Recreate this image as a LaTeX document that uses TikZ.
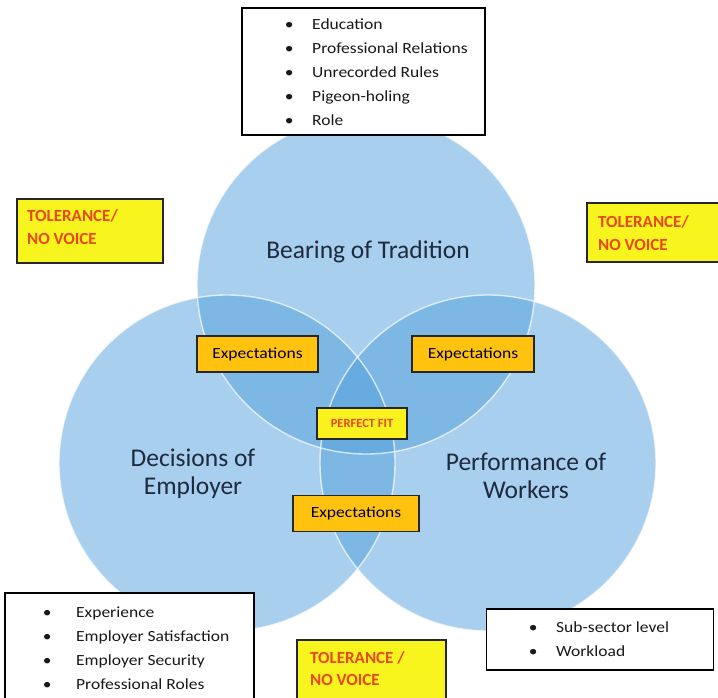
\documentclass[tikz,border=0pt]{standalone}
\usepackage{fontspec}
\setmainfont{Carlito}
\newfontfamily\listfont{Carlito}[FakeStretch=1.13]
\definecolor{ringblue}{RGB}{83,161,221}
\definecolor{voiceyellow}{RGB}{248,245,30}
\definecolor{voicered}{RGB}{232,72,28}
\definecolor{exporange}{RGB}{255,194,14}
\definecolor{labelnavy}{RGB}{30,42,62}
\definecolor{fityellow}{RGB}{250,242,30}
\newcommand\bulletitem[2]{\makebox[#1][l]{\makebox[0pt]{\textbullet}}#2}
\begin{document}
\begin{tikzpicture}[x=1pt,y=-1pt,
  ring/.style={fill=ringblue, fill opacity=0.5},
  rim/.style={draw=white, line width=1.4pt, draw opacity=0.7},
  listbox/.style={draw=black, line width=1.3pt, fill=white, inner sep=0pt},
  item/.style={anchor=base west, inner sep=0pt, text=black!90,
    font=\listfont\fontsize{15.5}{18}\selectfont},
  voicebox/.style={draw=black!85, line width=1.2pt, fill=voiceyellow, inner sep=0pt},
  voicetext/.style={anchor=base west, inner sep=0pt, text=voicered,
    font=\bfseries\fontsize{17}{20}\selectfont},
  expbox/.style={draw=black!85, line width=1.3pt, fill=exporange, inner sep=0pt,
    minimum height=36, text=black!80!blue!60!black,
    font=\listfont\fontsize{15.5}{18}\selectfont},
  fitbox/.style={draw=black!85, line width=1.2pt, fill=fityellow, inner sep=0pt,
    text=voicered, font=\bfseries\fontsize{12.5}{14}\selectfont},
  ringlabel/.style={align=center, text=labelnavy, inner sep=0pt,
    font=\fontsize{25.5}{27.5}\selectfont}
]
\useasboundingbox (0,0) rectangle (718,698);
\fill[white] (0,0) rectangle (718,698);

% the three overlapping circles
\coordinate (ctrad) at (366,285);
\coordinate (cemp) at (227,463);
\coordinate (cwork) at (488,463);
\fill[ring] (ctrad) circle[radius=169pt];
\fill[ring] (cemp) circle[radius=168pt];
\fill[ring] (cwork) circle[radius=168pt];
\draw[rim] (ctrad) circle[radius=169pt];
\draw[rim] (cemp) circle[radius=168pt];
\draw[rim] (cwork) circle[radius=168pt];

% circle titles
\node[ringlabel] (lbltrad) at (368,252) {Bearing of Tradition};
\node[ringlabel] (lblemp) at (193,474) {Decisions of\\Employer};
\node[ringlabel] (lblwork) at (526,476) {Performance of\\Workers};

% overlap tags
\node[expbox, minimum width=121] (expleft) at (257.5,354) {Expectations};
\node[expbox, minimum width=122] (expright) at (473,354) {Expectations};
\node[expbox, minimum width=126] (expbottom) at (356,513.5) {Expectations};
\node[fitbox, minimum width=90, minimum height=31] (fit) at (362,423.5) {PERFECT FIT};

% factor lists
\node[listbox, minimum width=243, minimum height=127] (tradbox) at (363.5,71.5) {};
\foreach \y/\t [count=\i] in {30/Education, 54/Professional Relations,
    78/Unrecorded Rules, 102/Pigeon-holing, 126/Role}
  \node[item] (trad\i) at (289,\y) {\bulletitem{23pt}{\t}};

\node[listbox, minimum width=249, minimum height=120] (empbox) at (129.5,653) {};
\foreach \y/\t [count=\i] in {617/Experience, 641/Employer Satisfaction,
    665/Employer Security, 689/Professional Roles}
  \node[item] (emp\i) at (47,\y) {\bulletitem{29pt}{\t}};

\node[listbox, minimum width=227, minimum height=61] (workbox) at (600,639.5) {};
\foreach \y/\t [count=\i] in {632/Sub-sector level, 656/Workload}
  \node[item] (work\i) at (533,\y) {\bulletitem{23pt}{\t}};

% tolerance / no voice boxes
\node[voicebox, minimum width=146, minimum height=64] (voiceleft) at (90,231) {};
\node[voicetext] (vl1) at (27,222) {TOLERANCE/};
\node[voicetext] (vl2) at (27,244) {NO VOICE};

\node[voicebox, minimum width=135, minimum height=59] (voiceright) at (654.5,232.5) {};
\node[voicetext] (vr1) at (598,227) {TOLERANCE/};
\node[voicetext] (vr2) at (598,250) {NO VOICE};

\node[voicebox, minimum width=149, minimum height=66] (voicebottom) at (371.5,673) {};
\node[voicetext] (vb1) at (310,663) {TOLERANCE /};
\node[voicetext] (vb2) at (310,685) {NO VOICE};
\end{tikzpicture}
\end{document}
